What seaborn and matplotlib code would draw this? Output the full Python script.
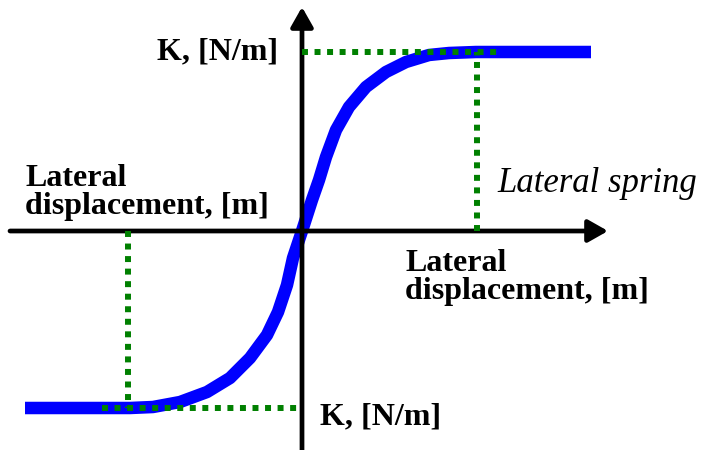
import matplotlib
matplotlib.use("Agg")
import matplotlib.pyplot as plt
import seaborn as sns
import pandas as pd

# Lateral spring law: stiffness vs lateral displacement (schematic units)
displacement = [-277, -172, -149, -122, -95, -72, -52, -35, -24, -15, -9, 0,
                10, 17, 24, 34, 47, 64, 84, 104, 127, 147, 174, 289]
stiffness = [-177, -177, -176, -171, -161, -147, -127, -104, -81, -54, -27, 0,
             31, 51, 74, 101, 124, 144, 159, 169, 176, 178, 179, 179]

# Saturation levels and where the curve reaches them
k_upper = 179
k_lower = -177
d_sat_pos = 175
d_sat_neg = -174
guide_pos_end = 200
guide_neg_end = -200

# Axis extents
x_axis = (-292, 306)
y_axis = (-219, 224)

XLIM = (-302, 403)
YLIM = (-219, 231)

sns.set_style("white")
plt.rcParams["font.family"] = ["Liberation Serif", "DejaVu Serif"]

fig = plt.figure(figsize=(7.05, 4.5), dpi=100)
ax = fig.add_axes([0, 0, 1, 1])

curve = pd.DataFrame({"d": displacement, "k": stiffness})

# Spring curve
sns.lineplot(data=curve, x="d", y="k", ax=ax, color="#0000ff", lw=9,
             sort=False, zorder=2, legend=False)
ax.lines[-1].set_solid_capstyle("butt")
ax.lines[-1].set_solid_joinstyle("round")

# Coordinate axes with arrow heads
arrow_kw = dict(arrowstyle="-|>,head_length=0.6,head_width=0.34",
                color="black", lw=3.4, mutation_scale=20,
                shrinkA=0, shrinkB=0)
ax.annotate("", xy=(x_axis[1], 0), xytext=(x_axis[0], 0),
            arrowprops=arrow_kw, zorder=3)
ax.annotate("", xy=(0, y_axis[1]), xytext=(0, y_axis[0]),
            arrowprops=arrow_kw, zorder=3)

# Dotted saturation guides, drawn over the curve
green = "#008000"
guide_kw = dict(color=green, lw=4.3, linestyle=(0, (1, 1.1)),
                solid_capstyle="butt", dash_capstyle="butt", zorder=4)
ax.plot([0, guide_pos_end], [k_upper, k_upper], **guide_kw)
ax.plot([d_sat_pos, d_sat_pos], [0, k_upper], **guide_kw)
ax.plot([guide_neg_end, 0], [k_lower, k_lower], **guide_kw)
ax.plot([d_sat_neg, d_sat_neg], [0, k_lower], **guide_kw)

ax.set_xlim(*XLIM)
ax.set_ylim(*YLIM)
ax.axis("off")

bold = dict(fontsize=23, fontweight="bold", color="black")
ax.text(-24, k_upper, "K, [N/m]", ha="right", va="center", **bold)
ax.text(18, k_lower - 9, "K, [N/m]", ha="left", va="center", **bold)

ax.text(-277, 45, "Lateral", ha="left", va="baseline", **bold)
ax.text(-277, 17, "displacement, [m]", ha="left", va="baseline", **bold)
ax.text(103, -40, "Lateral", ha="left", va="baseline", **bold)
ax.text(103, -68, "displacement, [m]", ha="left", va="baseline", **bold)

ax.text(195, 39, "Lateral spring", ha="left", va="baseline",
        fontsize=25, fontstyle="italic", color="black")

fig.savefig("out.png", dpi=100)
